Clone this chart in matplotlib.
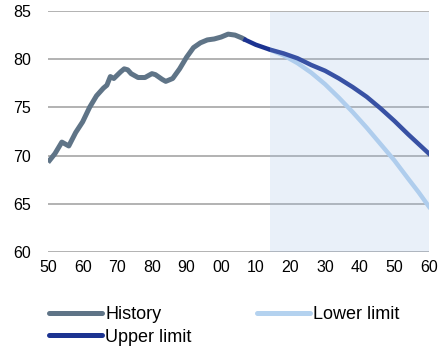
import matplotlib
matplotlib.use("Agg")
import matplotlib.pyplot as plt

plt.rcParams['font.family'] = ['Liberation Sans', 'DejaVu Sans']

hist_years = [1950, 1952, 1954, 1956, 1958, 1960, 1962, 1964, 1966, 1967, 1968, 1969,
              1971, 1972, 1973, 1974, 1976, 1978, 1980, 1981, 1983, 1984, 1986, 1988,
              1990, 1992, 1994, 1996, 1998, 2000, 2002, 2004, 2006, 2007]
hist_vals = [69.3, 70.2, 71.4, 71.0, 72.4, 73.5, 75.0, 76.2, 77.0, 77.3, 78.2, 78.0,
             78.7, 79.0, 78.9, 78.5, 78.1, 78.1, 78.5, 78.4, 77.9, 77.7, 78.0, 79.0,
             80.2, 81.2, 81.7, 82.0, 82.1, 82.3, 82.6, 82.5, 82.2, 82.0]

upper_years = [2007, 2010, 2014, 2018, 2022, 2026, 2030, 2034, 2038, 2042, 2046,
               2050, 2054, 2057, 2060]
upper_vals = [82.0, 81.5, 81.0, 80.6, 80.1, 79.4, 78.8, 78.0, 77.1, 76.1, 74.9,
              73.6, 72.2, 71.2, 70.2]

lower_years = [2014, 2018, 2022, 2026, 2030, 2034, 2038, 2042, 2046, 2050, 2054,
               2057, 2060]
lower_vals = [81.0, 80.4, 79.6, 78.6, 77.4, 76.0, 74.5, 72.9, 71.2, 69.5, 67.6,
              66.2, 64.7]

xticks = list(range(1950, 2061, 10))
xtick_labels = ["50", "60", "70", "80", "90", "00", "10", "20", "30", "40", "50", "60"]
yticks = [60, 65, 70, 75, 80, 85]

forecast_start = 2014

fig = plt.figure(figsize=(4.39, 3.5), dpi=100)
ax = fig.add_axes([48/439, 1-252/350, (429-48)/439, (252-11)/350])

c_hist = '#5f7487'
c_upper = '#1c3391'
c_lower = '#b4d2ef'

ax.plot(hist_years, hist_vals, color=c_hist, lw=3.6, solid_capstyle='butt', zorder=3, label='History')
ax.plot(lower_years, lower_vals, color=c_lower, lw=3.2, zorder=3, label='Lower limit')
ax.plot(upper_years, upper_vals, color=c_upper, lw=3.2, zorder=4, label='Upper limit')

ax.axvspan(forecast_start, 2060, ymin=0, ymax=0.995, facecolor=(159/255, 191/255, 232/255),
           alpha=0.22, lw=0, zorder=5)

ax.set_xlim(1950, 2060)
ax.set_ylim(60, 85)
ax.set_xticks(xticks)
ax.set_xticklabels(xtick_labels)
ax.set_yticks(yticks)
ax.tick_params(length=0, labelsize=11.5, pad=6)
ax.tick_params(axis='y', pad=12)
ax.grid(axis='y', color='#a6a6a6', lw=1.2)
ax.set_axisbelow(True)
for s in ax.spines.values():
    s.set_visible(False)

handles, labels = ax.get_legend_handles_labels()
order = [0, 2, 1]
leg = fig.legend([handles[i] for i in order], [labels[i] for i in order],
                 ncol=2, loc='upper left', bbox_to_anchor=(42/439, 1-299/350),
                 frameon=False, fontsize=13, handlelength=2.95, handletextpad=0.15,
                 columnspacing=3.6, labelspacing=0.3, borderaxespad=0)
for h in leg.get_lines():
    h.set_linewidth(3.6)
    h.set_solid_capstyle('round')

fig.savefig('out.png', dpi=100)
